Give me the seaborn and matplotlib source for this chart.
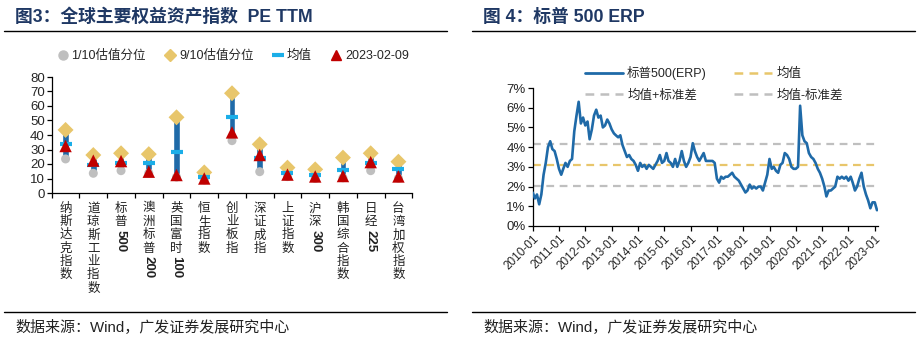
import re
import numpy as np
import pandas as pd
import matplotlib
matplotlib.use("Agg")
import matplotlib.pyplot as plt
import seaborn as sns
from matplotlib.lines import Line2D

# ---------------- data: left panel ----------------
categories = ["纳斯达克指数", "道琼斯工业指数", "标普500", "澳洲标普200", "英国富时100",
              "恒生指数", "创业板指", "深证成指", "上证指数", "沪深300",
              "韩国综合指数", "日经225", "台湾加权指数"]
pe_p10 = [23.5, 13.6, 15.4, 13.8, 11.0, 9.0, 36.1, 14.7, 11.3, 10.0, 10.5, 15.4, 10.2]
pe_p90 = [43.5, 26.2, 27.4, 26.8, 52.2, 14.2, 68.8, 33.6, 17.5, 16.3, 24.4, 27.4, 21.6]
pe_mean = [33.6, 19.5, 20.8, 20.5, 28.3, 10.8, 52.6, 24.0, 13.6, 12.4, 15.9, 20.9, 16.3]
pe_now = [32.4, 22.3, 22.0, 14.7, 12.4, 10.0, 41.8, 26.2, 12.7, 11.4, 11.7, 21.3, 11.4]
left_yticks = [0, 10, 20, 30, 40, 50, 60, 70, 80]

# ---------------- data: right panel ----------------
erp_start = "2010-01-01"
erp_2010 = [1.7, 1.4, 1.6, 1.1, 1.6, 2.6, 3.2, 4.0, 4.3, 3.9, 3.8, 3.4]
erp_2011 = [2.9, 2.6, 2.9, 3.2, 3.0, 3.3, 3.4, 4.8, 5.6, 6.3, 5.2, 5.5]
erp_2012 = [5.1, 5.3, 4.4, 4.9, 5.6, 5.9, 5.5, 5.6, 5.0, 5.1, 5.4, 5.2]
erp_2013 = [4.9, 4.7, 4.6, 4.5, 4.6, 4.1, 3.8, 3.5, 3.6, 3.4, 3.3, 3.1]
erp_2014 = [2.8, 3.2, 3.0, 3.1, 2.9, 3.1, 3.0, 2.9, 3.1, 3.3, 3.6, 3.2]
erp_2015 = [3.3, 3.7, 3.3, 3.2, 3.0, 3.4, 3.0, 3.3, 3.8, 3.3, 3.0, 3.2]
erp_2016 = [3.5, 4.2, 3.8, 3.5, 3.3, 3.5, 3.7, 3.3, 3.3, 3.3, 3.3, 3.2]
erp_2017 = [2.4, 2.2, 2.5, 2.4, 2.5, 2.5, 2.6, 2.7, 2.5, 2.4, 2.3, 2.1]
erp_2018 = [1.9, 1.7, 1.8, 2.1, 1.9, 2.0, 1.9, 2.0, 2.0, 1.8, 2.2, 2.6]
erp_2019 = [3.4, 2.9, 3.0, 2.8, 2.7, 3.1, 3.2, 3.7, 3.6, 3.4, 3.0, 2.9]
erp_2020 = [2.9, 3.0, 6.1, 4.6, 4.3, 4.2, 3.7, 3.5, 3.4, 3.2, 2.9, 2.7]
erp_2021 = [2.4, 2.0, 1.5, 1.8, 1.8, 1.9, 2.0, 2.5, 2.4, 2.5, 2.4, 2.5]
erp_2022 = [2.3, 2.5, 2.2, 1.8, 2.0, 2.4, 2.7, 2.0, 1.6, 1.3, 0.9, 1.2]
erp_2023 = [1.2, 0.8]
erp_mean = 3.08
erp_upper = 4.15
erp_lower = 2.03
right_yticks = [0, 1, 2, 3, 4, 5, 6, 7]

erp_vals = (erp_2010 + erp_2011 + erp_2012 + erp_2013 + erp_2014 + erp_2015 + erp_2016
            + erp_2017 + erp_2018 + erp_2019 + erp_2020 + erp_2021 + erp_2022 + erp_2023)
erp_dates = pd.date_range(erp_start, periods=len(erp_vals), freq="MS")
df_erp = pd.DataFrame({"date": erp_dates, "erp": erp_vals})

# ---------------- style ----------------
sns.set_theme(style="white")
plt.rcParams["font.family"] = ["Liberation Sans", "Noto Sans CJK SC", "DejaVu Sans"]
plt.rcParams["axes.unicode_minus"] = False

C_GREY = "#BFBFBF"
C_GOLD = "#E8C66B"
C_MEAN = "#1BAEE8"
C_BAR = "#1F6AA8"
C_RED = "#C00000"
C_LINE = "#1F6AA8"
C_TITLE = "#1F3864"

fig = plt.figure(figsize=(9.23, 3.43), dpi=100)
W, H = 923.0, 343.0

def fx(px):
    return px / W

def fy(py):
    return 1 - py / H

# titles, rules, footers
fig.text(fx(15), fy(17), "图3：全球主要权益资产指数  PE TTM", fontsize=12.8, fontweight="bold",
         color=C_TITLE, ha="left", va="center")
fig.text(fx(483), fy(17), "图 4：标普 500 ERP", fontsize=12.8, fontweight="bold",
         color=C_TITLE, ha="left", va="center")
for (x0, x1) in [(4, 447), (472, 915)]:
    fig.add_artist(Line2D([fx(x0), fx(x1)], [fy(30.5), fy(30.5)], transform=fig.transFigure,
                          color="black", lw=1.0))
    fig.add_artist(Line2D([fx(x0), fx(x1)], [fy(311.7), fy(311.7)], transform=fig.transFigure,
                          color="black", lw=1.0))
for xs in [15, 483]:
    fig.text(fx(xs), fy(326.5), "数据来源：Wind，广发证券发展研究中心", fontsize=10.8,
             color="#222222", ha="left", va="center")

# ---------------- left panel ----------------
ax1 = fig.add_axes([fx(51.7), fy(193), fx(412.3) - fx(51.7), fy(77) - fy(193)])
xpos = np.arange(len(categories))
df_pe = pd.DataFrame({"x": xpos, "p10": pe_p10, "p90": pe_p90, "mean": pe_mean, "now": pe_now})

ax1.bar(df_pe["x"], np.array(pe_p90) - np.array(pe_p10), bottom=pe_p10, width=0.24,
        color=C_BAR, zorder=2)
sns.scatterplot(data=df_pe, x="x", y="p10", ax=ax1, color=C_GREY, s=42, marker="o",
                edgecolor="none", zorder=3, legend=False)
sns.scatterplot(data=df_pe, x="x", y="p90", ax=ax1, color=C_GOLD, s=66, marker="D",
                edgecolor="none", zorder=4, legend=False)
sns.scatterplot(data=df_pe, x="x", y="mean", ax=ax1, color=C_MEAN, s=75, marker="_",
                linewidth=3, zorder=5, legend=False)
sns.scatterplot(data=df_pe, x="x", y="now", ax=ax1, color=C_RED, s=80, marker="^",
                edgecolor="none", zorder=6, legend=False)

ax1.set_xlim(-0.5, len(categories) - 0.5)
ax1.set_ylim(0, 80)
ax1.set_yticks(left_yticks)
ax1.set_yticklabels([str(v) for v in left_yticks], fontsize=9.5)
ax1.set_xticks(np.arange(-0.5, len(categories), 1.0))
ax1.set_xticklabels([])
ax1.set_xlabel("")
ax1.set_ylabel("")
for s in ["top", "right"]:
    ax1.spines[s].set_visible(False)
for s in ["left", "bottom"]:
    ax1.spines[s].set_color("black")
    ax1.spines[s].set_linewidth(0.9)
ax1.tick_params(axis="both", direction="out", length=3.5, width=0.9, color="black",
                bottom=True, left=True, pad=1.5)

# vertical category labels (CJK upright, digits rotated)
PX = 0.72
pitch = 13.3
first = 15.7
for i, lab in enumerate(categories):
    segs = re.findall(r"\d+|.", lab)
    k = 0
    for sgm in segs:
        if sgm.isdigit():
            start = first + pitch * (k - 1) + 6.7 + 1.2
            ax1.annotate(sgm, xy=(i, 0), xycoords=ax1.get_xaxis_transform(),
                         xytext=(0, -start * PX), textcoords="offset points",
                         ha="center", va="top", rotation=-90, fontsize=9.5,
                         fontweight="bold", color="#222222")
            k += 2
        else:
            c = first + pitch * k
            ax1.annotate(sgm, xy=(i, 0), xycoords=ax1.get_xaxis_transform(),
                         xytext=(0, -c * PX), textcoords="offset points",
                         ha="center", va="center", fontsize=9, color="#222222")
            k += 1

h1 = [
    Line2D([], [], ls="none", marker="o", color=C_GREY, markersize=6.5, label="1/10估值分位"),
    Line2D([], [], ls="none", marker="D", color=C_GOLD, markersize=6.5, label="9/10估值分位"),
    Line2D([], [], ls="none", marker="_", color=C_MEAN, markersize=8, markeredgewidth=3, label="均值"),
    Line2D([], [], ls="none", marker="^", color=C_RED, markersize=7.5, label="2023-02-09"),
]
fig.legend(handles=h1, loc="center", bbox_to_anchor=(fx(233), fy(56)), ncol=4, frameon=False,
           fontsize=9, handlelength=0.9, handletextpad=0.25, columnspacing=1.5, borderpad=0)

# ---------------- right panel ----------------
ax2 = fig.add_axes([fx(532.7), fy(226), fx(878) - fx(532.7), fy(88) - fy(226)])
ax2.axhline(erp_upper, color=C_GREY, lw=1.6, ls=(0, (3.5, 2.5)), zorder=1)
ax2.axhline(erp_lower, color=C_GREY, lw=1.6, ls=(0, (3.5, 2.5)), zorder=1)
ax2.axhline(erp_mean, color=C_GOLD, lw=1.6, ls=(0, (3.5, 2.5)), zorder=1)
sns.lineplot(data=df_erp, x="date", y="erp", ax=ax2, color=C_LINE, lw=1.9, zorder=3)

ax2.set_xlim(pd.Timestamp("2010-01-01"), pd.Timestamp("2023-02-15"))
ax2.set_ylim(0, 7)
ax2.set_yticks(right_yticks)
ax2.set_yticklabels([f"{v}%" for v in right_yticks], fontsize=9.5)
xt = pd.date_range("2010-01-01", "2023-01-01", freq="YS")
ax2.set_xticks(xt)
ax2.set_xticklabels([d.strftime("%Y-%m") for d in xt], rotation=45, ha="right",
                    rotation_mode="anchor", fontsize=8.5)
ax2.set_xlabel("")
ax2.set_ylabel("")
for s in ["top", "right"]:
    ax2.spines[s].set_visible(False)
for s in ["left", "bottom"]:
    ax2.spines[s].set_color("black")
    ax2.spines[s].set_linewidth(0.9)
ax2.tick_params(axis="both", direction="out", length=3.5, width=0.9, color="black",
                bottom=True, left=True, pad=1.5)

h2 = [
    Line2D([], [], color=C_LINE, lw=2, label="标普500(ERP)"),
    Line2D([], [], color=C_GREY, lw=1.8, ls=(0, (3.5, 2.5)), label="均值+标准差"),
    Line2D([], [], color=C_GOLD, lw=1.8, ls=(0, (3.5, 2.5)), label="均值"),
    Line2D([], [], color=C_GREY, lw=1.8, ls=(0, (3.5, 2.5)), label="均值-标准差"),
]
fig.legend(handles=h2, loc="center", bbox_to_anchor=(fx(714), fy(84)), ncol=2, frameon=False,
           fontsize=9, handlelength=3.0, handletextpad=0.35, columnspacing=2.2,
           labelspacing=0.75, borderpad=0)

fig.savefig("out.png", dpi=100)
